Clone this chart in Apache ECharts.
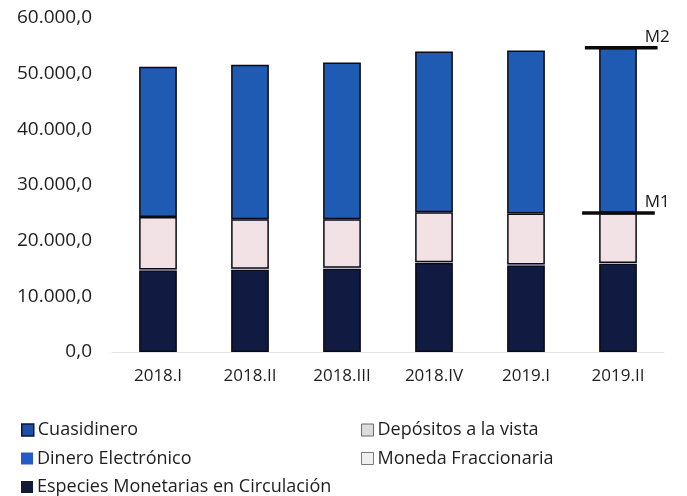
<!DOCTYPE html>
<html>
<head>
<meta charset="utf-8">
<script src="https://cdn.jsdelivr.net/npm/echarts@6/dist/echarts.min.js"></script>
<style>
  html, body { margin: 0; padding: 0; background: #ffffff; }
  #chart { width: 687px; height: 496px; }
</style>
</head>
<body>
<div id="chart"></div>
<script>
// Quarterly periods
const periods = ['2018.I', '2018.II', '2018.III', '2018.IV', '2019.I', '2019.II'];

// Monetary aggregates components (millions)
const especies = [14700, 14830, 15010, 16020, 15600, 15900];
const monedaFraccionaria = [90, 90, 90, 90, 90, 90];
const dineroElectronico = [40, 30, 20, 10, 10, 10];
const depositosVista = [9410, 8880, 8710, 8970, 9200, 8950];
const cuasidinero = [26990, 27770, 28180, 28900, 29270, 29700];

// Value-axis ticks
const yTicks = [0, 10000, 20000, 30000, 40000, 50000, 60000];

const FONT = 'Open Sans';

function fmt(v) {
  const s = Math.round(v).toString().replace(/\B(?=(\d{3})+(?!\d))/g, '.');
  return s + ',0';
}

// M1 and M2 for the last period
const last = periods.length - 1;
const m1Last = especies[last] + monedaFraccionaria[last] + dineroElectronico[last] + depositosVista[last];
const m2Last = m1Last + cuasidinero[last];

const chart = echarts.init(document.getElementById('chart'));

const barBorder = { borderColor: '#0a0a14', borderWidth: 1.5 };

// one legend entry per block so the two-column layout stays fixed
function legendItem(name, left, top, itemStyle) {
  return {
    left: left, top: top, padding: 0, itemWidth: 12, itemHeight: 12, icon: 'rect',
    textStyle: { fontSize: 18, lineHeight: 20, color: '#1e1e1e', fontFamily: FONT, padding: [0, 0, 0, -1] },
    data: [{ name: name, itemStyle: itemStyle }]
  };
}

chart.setOption({
  backgroundColor: '#ffffff',
  animation: false,
  textStyle: { fontFamily: FONT },
  grid: { left: 112, right: 23, top: 18, bottom: 144, containLabel: false },
  xAxis: {
    type: 'category',
    data: periods,
    axisTick: { show: false },
    axisLine: { show: true, lineStyle: { color: '#e2e2e2', width: 1 } },
    axisLabel: { fontSize: 17, color: '#1e1e1e', margin: 16, fontFamily: FONT }
  },
  yAxis: {
    type: 'value',
    min: yTicks[0],
    max: yTicks[yTicks.length - 1],
    interval: yTicks[1] - yTicks[0],
    splitLine: { show: false },
    axisLine: { show: false },
    axisTick: { show: false },
    axisLabel: { fontSize: 19, color: '#1e1e1e', margin: 20, fontFamily: FONT, formatter: fmt }
  },
  legend: [
    legendItem('Cuasidinero', 21, 420, { color: '#1f4fa6', borderColor: '#0d1638', borderWidth: 1.5 }),
    legendItem('Dinero Electrónico', 21, 448.5, { color: '#235cc6', borderWidth: 0 }),
    legendItem('Especies Monetarias en Circulación', 21, 477, { color: '#121a36', borderWidth: 0 }),
    legendItem('Depósitos a la vista', 361, 420, { color: '#dcdcdc', borderColor: '#6a6a6a', borderWidth: 1 }),
    legendItem('Moneda Fraccionaria', 361, 448.5, { color: '#efefef', borderColor: '#7a7a7a', borderWidth: 1 })
  ],
  series: [
    {
      name: 'Especies Monetarias en Circulación', type: 'bar', stack: 'm', data: especies,
      barWidth: '41%', itemStyle: Object.assign({ color: '#111a40' }, barBorder)
    },
    {
      name: 'Moneda Fraccionaria', type: 'bar', stack: 'm', data: monedaFraccionaria,
      itemStyle: { color: '#efefef', borderWidth: 0 }
    },
    {
      name: 'Dinero Electrónico', type: 'bar', stack: 'm', data: dineroElectronico,
      itemStyle: { color: '#235cc6', borderWidth: 0 }
    },
    {
      name: 'Depósitos a la vista', type: 'bar', stack: 'm', data: depositosVista,
      itemStyle: Object.assign({ color: '#f2e2e5' }, barBorder)
    },
    {
      name: 'Cuasidinero', type: 'bar', stack: 'm', data: cuasidinero,
      itemStyle: Object.assign({ color: '#1f5bb3' }, barBorder)
    },
    {
      // M1 / M2 level markers on the latest period
      name: 'niveles', type: 'custom', z: 10, silent: true,
      data: [[periods[last], m1Last, 'M1', -0.39, 0.40], [periods[last], m2Last, 'M2', -0.36, 0.43]],
      renderItem: function (params, api) {
        const p = api.coord([api.value(0), api.value(1)]);
        const bw = api.size([1, 0])[0];
        const a = api.value(3), b = api.value(4);
        return {
          type: 'group',
          children: [
            {
              type: 'line',
              shape: { x1: p[0] + a * bw, y1: p[1], x2: p[0] + b * bw, y2: p[1] },
              style: { stroke: '#0a0a0a', lineWidth: 3.5 }
            },
            {
              type: 'text',
              style: {
                text: api.value(2), x: p[0] + 0.29 * bw, y: p[1] - 2,
                fill: '#1a1a1a', font: '17px ' + FONT,
                textAlign: 'left', textVerticalAlign: 'bottom'
              }
            }
          ]
        };
      }
    }
  ]
});
</script>
</body>
</html>
